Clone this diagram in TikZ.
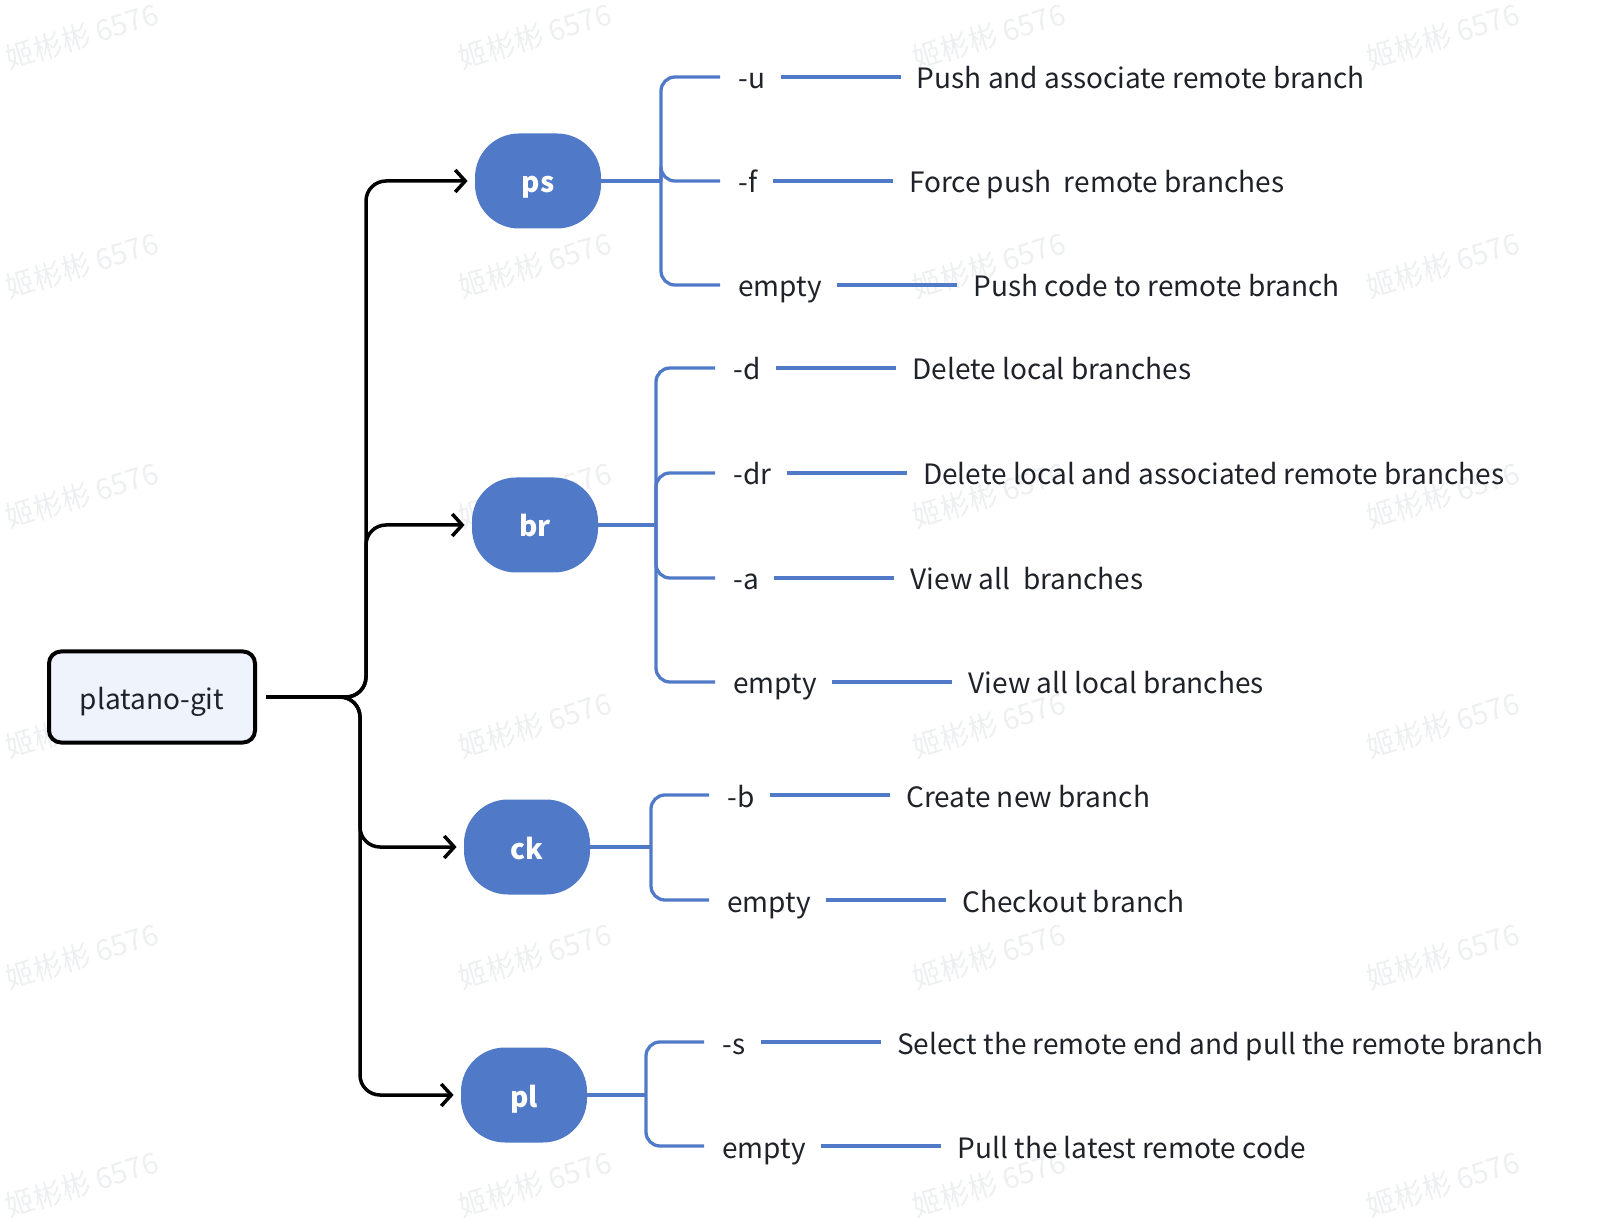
\documentclass[tikz,border=0pt]{standalone}
\usepackage{fontspec}
\setmainfont{Noto Sans CJK SC}
\usetikzlibrary{positioning,arrows.meta}

\definecolor{pillblue}{HTML}{5079C7}
\definecolor{rootfill}{HTML}{EFF3FC}
\definecolor{inkgray}{HTML}{1F2329}
\definecolor{markgray}{HTML}{EEEFF1}

\tikzset{
    root/.style={draw=black, line width=2pt, fill=rootfill, rounded corners=6pt,
        minimum width=103pt, minimum height=45.5pt, text=inkgray,
        text height=13pt, text depth=0pt, font=\fontsize{14}{16}\selectfont},
    cmd/.style={fill=pillblue, rounded corners=22pt, minimum width=63pt,
        minimum height=47.5pt, text=white, text height=12pt, text depth=0pt,
        font=\fontsize{14}{16}\selectfont\bfseries},
    opt/.style={anchor=west, inner sep=0pt, text height=13pt, text depth=1pt,
        text=inkgray, font=\fontsize{14}{16}\selectfont},
    desc/.style={opt, right=75.5pt of #1},
    link/.style={line width=1.75pt, rounded corners=10pt,
        -{Straight Barb[length=5pt,width=11pt,line width=1.75pt]}},
    branch/.style={pillblue, line width=1.65pt, rounded corners=7pt},
    wmark/.style={text=markgray, rotate=17, font=\fontsize{14.5}{16}\selectfont}
}

\begin{document}
\begin{tikzpicture}[x=0.5pt, y=-0.5pt]
    \useasboundingbox (0,0) rectangle (1612,1224);

    % watermark
    \foreach \wx in {82,535,989,1443}
        \foreach \wy in {36,265,495,725,956,1184}
            \node[wmark] (wm-\wx-\wy) at (\wx,\wy) {姬彬彬 6576};

    % root and commands
    \node[root] (root) at (152,697) {platano-git};
    \node[cmd] (ps) at (538,181) {ps};
    \node[cmd] (br) at (535,525) {br};
    \node[cmd] (ck) at (527,847) {ck};
    \node[cmd] (pl) at (524,1095) {pl};

    \coordinate (upfork) at (366,697);
    \coordinate (lowfork) at (360,697);
    \draw[link] ([xshift=4.5pt]root.east) -| (upfork |- ps) -- ([xshift=-3.5pt]ps.west);
    \draw[link] ([xshift=4.5pt]root.east) -| (upfork |- br) -- ([xshift=-3.5pt]br.west);
    \draw[link] ([xshift=4.5pt]root.east) -| (lowfork |- ck) -- ([xshift=-3.5pt]ck.west);
    \draw[link] ([xshift=4.5pt]root.east) -| (lowfork |- pl) -- ([xshift=-3.5pt]pl.west);

    % ps
    \node[opt] (psu) at (738,77) {-u};
    \node[opt] (psf) at (738,181) {-f};
    \node[opt] (pse) at (738,285) {empty};
    \node[desc=psu] (psud) {Push and associate remote branch};
    \node[desc=psf] (psfd) {Force push\ \ remote branches};
    \node[desc=pse] (psed) {Push code to remote branch};
    \coordinate (psfork) at (661,181);
    \draw[branch] (ps.east) -- (psfork);
    \draw[branch] (psfork) |- ([xshift=-9pt]psu.west);
    \draw[branch] (psfork) |- ([xshift=-9pt]psf.west);
    \draw[branch] (psfork) |- ([xshift=-9pt]pse.west);
    \draw[branch] ([xshift=7.5pt]psu.east) -- ([xshift=-8pt]psud.west);
    \draw[branch] ([xshift=7.5pt]psf.east) -- ([xshift=-8pt]psfd.west);
    \draw[branch] ([xshift=7.5pt]pse.east) -- ([xshift=-8pt]psed.west);

    % br
    \node[opt] (brd) at (733,368) {-d};
    \node[opt] (brr) at (733,473) {-dr};
    \node[opt] (bra) at (733,578) {-a};
    \node[opt] (bre) at (733,682) {empty};
    \node[desc=brd] (brdd) {Delete local branches};
    \node[desc=brr] (brrd) {Delete local and associated remote branches};
    \node[desc=bra] (brad) {View all\ \ branches};
    \node[desc=bre] (bred) {View all local branches};
    \coordinate (brfork) at (656,525);
    \draw[branch] (br.east) -- (brfork);
    \draw[branch] (brfork) |- ([xshift=-9pt]brd.west);
    \draw[branch] (brfork) |- ([xshift=-9pt]brr.west);
    \draw[branch] (brfork) |- ([xshift=-9pt]bra.west);
    \draw[branch] (brfork) |- ([xshift=-9pt]bre.west);
    \draw[branch] ([xshift=7.5pt]brd.east) -- ([xshift=-8pt]brdd.west);
    \draw[branch] ([xshift=7.5pt]brr.east) -- ([xshift=-8pt]brrd.west);
    \draw[branch] ([xshift=7.5pt]bra.east) -- ([xshift=-8pt]brad.west);
    \draw[branch] ([xshift=7.5pt]bre.east) -- ([xshift=-8pt]bred.west);

    % ck
    \node[opt] (ckb) at (727,795) {-b};
    \node[opt] (cke) at (727,900) {empty};
    \node[desc=ckb] (ckbd) {Create new branch};
    \node[desc=cke] (cked) {Checkout branch};
    \coordinate (ckfork) at (651,847);
    \draw[branch] (ck.east) -- (ckfork);
    \draw[branch] (ckfork) |- ([xshift=-9pt]ckb.west);
    \draw[branch] (ckfork) |- ([xshift=-9pt]cke.west);
    \draw[branch] ([xshift=7.5pt]ckb.east) -- ([xshift=-8pt]ckbd.west);
    \draw[branch] ([xshift=7.5pt]cke.east) -- ([xshift=-8pt]cked.west);

    % pl
    \node[opt] (pls) at (722,1042) {-s};
    \node[opt] (ple) at (722,1146) {empty};
    \node[desc=pls] (plsd) {Select the remote end and pull the remote branch};
    \node[desc=ple] (pled) {Pull the latest remote code};
    \coordinate (plfork) at (646,1095);
    \draw[branch] (pl.east) -- (plfork);
    \draw[branch] (plfork) |- ([xshift=-9pt]pls.west);
    \draw[branch] (plfork) |- ([xshift=-9pt]ple.west);
    \draw[branch] ([xshift=7.5pt]pls.east) -- ([xshift=-8pt]plsd.west);
    \draw[branch] ([xshift=7.5pt]ple.east) -- ([xshift=-8pt]pled.west);
\end{tikzpicture}
\end{document}
